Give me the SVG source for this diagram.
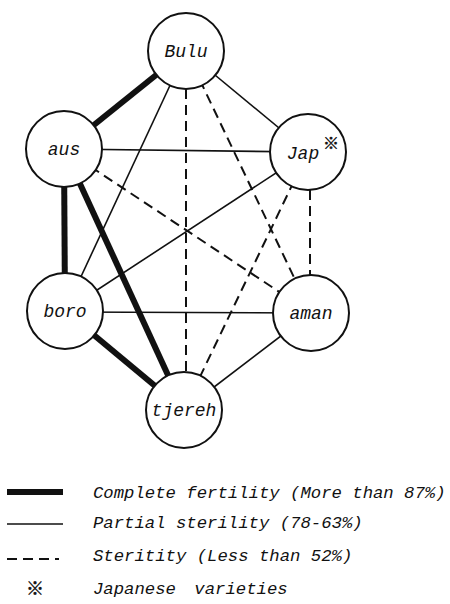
<svg xmlns="http://www.w3.org/2000/svg" width="450" height="604" viewBox="0 0 450 604">
<style>
.thick{stroke:#111;stroke-width:6;fill:none}
.thin{stroke:#111;stroke-width:1.6;fill:none}
.dash{stroke:#111;stroke-width:2;fill:none;stroke-dasharray:10 6}
.node circle{fill:#fff;stroke:#111;stroke-width:2}
.lbl{font-family:"Liberation Mono","DejaVu Sans Mono",monospace;font-style:italic;font-size:18px;fill:#111;text-anchor:middle}
.leg{font-family:"Liberation Mono","DejaVu Sans Mono",monospace;font-style:italic;font-size:17.3px;fill:#111}
.mark{font-family:"Noto Sans CJK JP","DejaVu Sans",sans-serif;fill:#111;font-weight:bold;stroke:#111;stroke-width:0.4}
</style>
<rect width="450" height="604" fill="#fff"/>
<g id="connectors">
<line class="thick" x1="186" y1="51" x2="64" y2="149"/>
<line class="thin" x1="186" y1="51" x2="308" y2="152"/>
<line class="thin" x1="186" y1="51" x2="65" y2="311"/>
<line class="dash" x1="186" y1="51" x2="311" y2="313"/>
<line class="dash" x1="186" y1="89" x2="186" y2="372"/>
<line class="thin" x1="64" y1="149" x2="308" y2="152"/>
<line class="thick" x1="64" y1="149" x2="65" y2="311"/>
<line class="dash" x1="64" y1="149" x2="311" y2="313"/>
<line class="thick" x1="64" y1="149" x2="184" y2="410"/>
<line class="thin" x1="308" y1="152" x2="65" y2="311"/>
<line class="dash" x1="310" y1="190" x2="310" y2="275"/>
<line class="dash" x1="308" y1="152" x2="184" y2="410"/>
<line class="thin" x1="65" y1="312" x2="311" y2="313"/>
<line class="thick" x1="65" y1="311" x2="184" y2="410"/>
<line class="thin" x1="311" y1="313" x2="184" y2="410"/>
</g>
<g id="Bulu" class="node"><circle cx="186" cy="51" r="38"/><text class="lbl" x="186" y="57">Bulu</text></g>
<g id="aus" class="node"><circle cx="64" cy="149" r="38"/><text class="lbl" x="64" y="155">aus</text></g>
<g id="Jap" class="node"><circle cx="308" cy="152" r="38"/><text class="lbl" x="303" y="159">Jap</text><text class="mark" x="331" y="149" font-size="16" text-anchor="middle">※</text></g>
<g id="boro" class="node"><circle cx="65" cy="311" r="38"/><text class="lbl" x="65" y="317">boro</text></g>
<g id="aman" class="node"><circle cx="311" cy="313" r="38"/><text class="lbl" x="311" y="319">aman</text></g>
<g id="tjereh" class="node"><circle cx="184" cy="410" r="38"/><text class="lbl" x="184" y="416">tjereh</text></g>
<g id="legend">
<line class="thick" x1="7" y1="492" x2="63" y2="492" stroke-width="7"/>
<text class="leg" x="93" y="498">Complete fertility (More than 87%)</text>
<line class="thin" x1="7" y1="524" x2="63" y2="524"/>
<text class="leg" x="93" y="528">Partial sterility (78-63%)</text>
<line class="dash" x1="7" y1="559" x2="59" y2="559" stroke-dasharray="12 8"/>
<text class="leg" x="93" y="561">Steritity (Less than 52%)</text>
<text class="mark" x="35" y="595" font-size="18" text-anchor="middle">※</text>
<text class="leg" x="93" y="594" word-spacing="8">Japanese varieties</text>
</g>
</svg>
